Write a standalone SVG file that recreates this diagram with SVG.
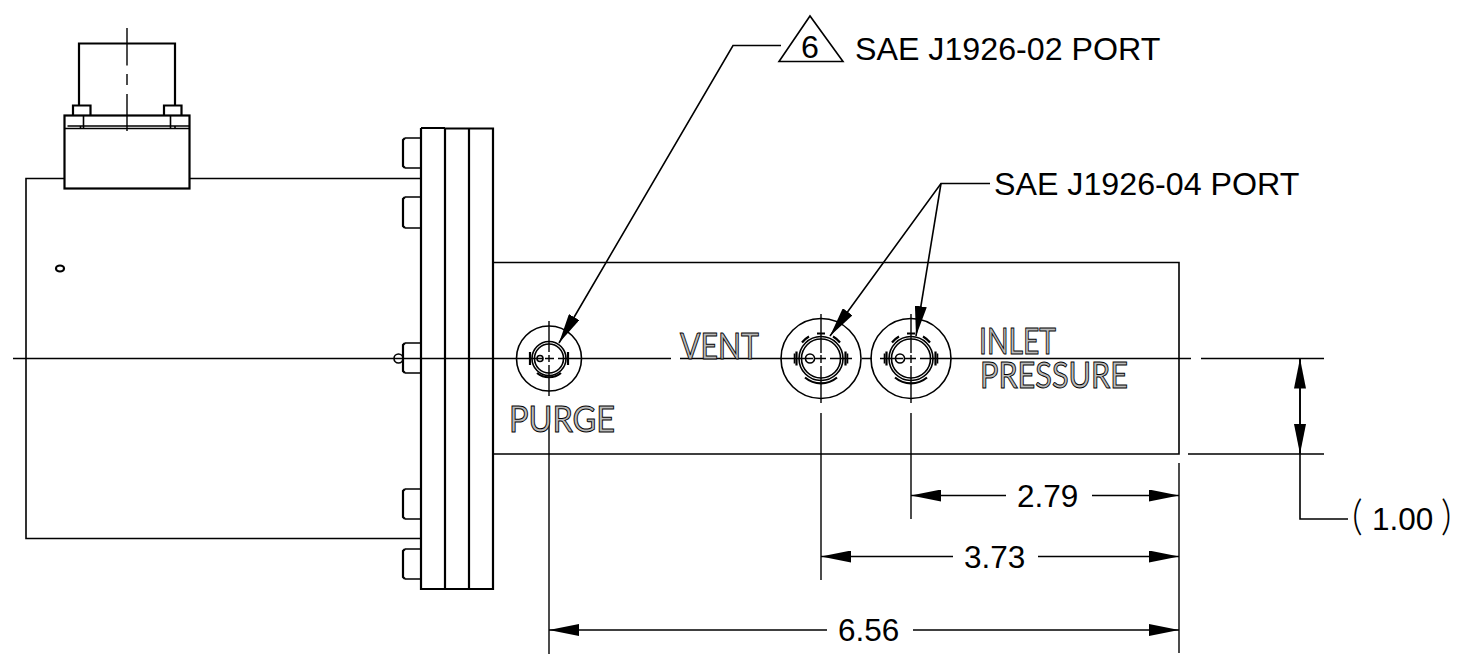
<svg xmlns="http://www.w3.org/2000/svg" width="1458" height="655" viewBox="0 0 1458 655">
<style>
.l{fill:none;stroke:#000;stroke-width:1.6}
.b{fill:none;stroke:#000;stroke-width:2.2}
.t{font-family:"Liberation Sans",Arial,sans-serif;font-size:31.5px;fill:#000}
.s{font-size:32.2px}
.p{font-family:Lato,"Liberation Sans",sans-serif;font-size:41px;font-weight:300;fill:#000}
.o{font-family:Lato,"Open Sans",sans-serif;font-size:36px;font-weight:400;fill:#bbb;stroke:#000;stroke-width:1}
.cl{fill:none;stroke:#000;stroke-width:1.4}
.a{fill:#000}
</style>
<defs>
<marker id="ah" viewBox="0 0 30 12" refX="30" refY="6" markerWidth="30" markerHeight="12" markerUnits="userSpaceOnUse" orient="auto"><path d="M0 0L30 6L0 12Z" class="a"/></marker>
<g id="port">
<circle class="l" r="40"/>
<circle class="l" r="19.500"/>
<circle class="l" r="22"/>
<circle class="l" cx="-11" r="4.500"/>
<path class="b" d="M-4 -25H4M-19 -16A25 25 0 0 1 -12 -22M19 -16A25 25 0 0 0 12 -22M-24.500 -7V7M24.500 -7V7M-16 19A25 25 0 0 0 16 19"/>
<path class="l" d="M-26.500 -5V5M26.500 -5V5"/>
</g>
</defs>
<g id="body"><path class="l" d="M65 178.500H26V538.500H421M189 178.500H421"/></g>
<g id="connector">
<path class="b" d="M79 105V43.500H175V105"/>
<path class="b" d="M73 115V105.500H90.500V115M164 115V105.500H181.500V115"/>
<rect class="b" x="64.500" y="115.500" width="125" height="73"/>
<path class="l" d="M64.500 128.500H189.500M67.500 126H189.500M80.500 126V129M83.500 116V129M170.500 116V129M175 126V129"/>
</g>
<g id="flange">
<path class="b" d="M421 128H445M445 128.500H493V589H421V128M445 128V589M469 128V589"/>
<path class="l" d="M493 262.500H1179V454H493"/>
<path class="l" d="M421 138H405M421 168H405M421 197H405M421 228H405M421 343H405M421 373H405M421 489H405M421 519H405M421 549H405M421 579H405"/>
<path class="b" d="M405 138L403 140V166L405 168M405 197L403 199V226L405 228M405 343L403 345V371L405 373M405 489L403 491V517L405 519M405 549L403 551V577L405 579"/>
<ellipse class="b" cx="60" cy="268.500" rx="4" ry="3"/>
<circle class="l" cx="398.500" cy="358.500" r="4.500"/>
</g>
<g id="purge-port">
<circle class="l" cx="549" cy="358.500" r="32.500"/>
<circle class="l" cx="549" cy="358.500" r="14.500"/>
<circle class="l" cx="549" cy="358.500" r="17"/>
<circle class="l" cx="540" cy="358.500" r="3"/>
<path class="b" d="M530 352V365M568 352V365M537 373A19 19 0 0 0 561 373"/>
</g>
<g id="vent-port"><use href="#port" x="821" y="358.500"/></g>
<g id="inlet-port"><use href="#port" x="911" y="358.500"/></g>
<g id="connectors">
<path class="cl" d="M127 28V65.500M127 74V85M127 94V131"/>
<path class="cl" d="M13 358.500H543M545 358.500H554M558 358.500H671M680 358.500H813M815 358.500H826M830 358.500H852M862 358.500H872M880 358.500H903M905 358.500H916M920 358.500H1191M1201 358.500H1324M1188 454H1324"/>
<path class="cl" d="M549 321V352M549 355V362M549 365V396M549 406V654M821 314V353M821 355V363M821 366V403M821 413V580M911 314V353M911 355V363M911 366V403M911 413V519M1179 463V653"/>
<path class="l" d="M781 45.500H733L559 343" marker-end="url(#ah)"/>
<path class="l" d="M990 183.500H941L830 336" marker-end="url(#ah)"/>
<path class="l" d="M941 183.500L916 336" marker-end="url(#ah)"/>
<path class="l" d="M1006 495.500H911" marker-end="url(#ah)"/>
<path class="l" d="M1092 495.500H1179" marker-end="url(#ah)"/>
<path class="l" d="M953 556.500H821" marker-end="url(#ah)"/>
<path class="l" d="M1038 556.500H1179" marker-end="url(#ah)"/>
<path class="l" d="M827 630H549" marker-end="url(#ah)"/>
<path class="l" d="M913 630H1179" marker-end="url(#ah)"/>
<path class="l" d="M1300 454V358.500" marker-end="url(#ah)"/>
<path class="l" d="M1300 358.500V454" marker-end="url(#ah)"/>
<path class="l" d="M1300 454V519H1348"/>
</g>
<g id="labels">
<path class="l" d="M779 61.500L810 16L843 61.500Z"/>
<text class="t s" x="801" y="58">6</text>
<text class="t s" x="855" y="60">SAE J1926-02 PORT</text>
<text class="t s" x="994" y="195">SAE J1926-04 PORT</text>
<text class="t" x="1017" y="507">2.79</text>
<text class="t" x="964" y="568">3.73</text>
<text class="t" x="838" y="641">6.56</text>
<text class="t" x="1372" y="530">1.00</text>
<text class="p" x="1352" y="530">(</text>
<text class="p" x="1441" y="530">)</text>
<g opacity="0.99">
<text class="o" x="509" y="432" textLength="106" lengthAdjust="spacingAndGlyphs">PURGE</text>
<text class="o" x="680" y="359" textLength="79" lengthAdjust="spacingAndGlyphs">VENT</text>
<text class="o" x="979" y="354" textLength="77" lengthAdjust="spacingAndGlyphs">INLET</text>
<text class="o" x="980" y="388" textLength="148" lengthAdjust="spacingAndGlyphs">PRESSURE</text>
</g>
</g>
</svg>
